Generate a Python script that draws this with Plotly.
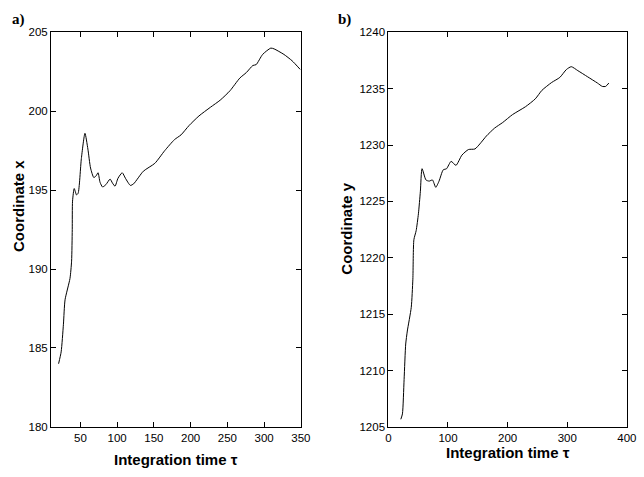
import plotly.graph_objects as go

# Panel a) : coordinate x vs integration time
t_a = [20.3, 23.8, 26.9, 29.1, 35.8, 38.0, 38.9, 39.3, 41.6, 44.7, 46.9, 51.3, 56.2, 60.2, 63.8,
       68.2, 71.3, 74.0, 76.7, 80.2, 84.7, 90.4, 93.6, 97.1, 101.1, 106.9, 111.3, 118.0, 122.4,
       135.7, 151.3, 164.7, 178.0, 186.9, 198.0, 211.3, 226.9, 240.2, 253.6, 266.9, 275.8,
       284.7, 289.1, 298.0, 309.1, 313.6, 326.9, 338.0, 349.1]
x_a = [184.0, 184.75, 186.5, 188.05, 189.4, 190.5, 192.5, 194.3, 195.1, 194.7, 194.8, 197.0, 198.6,
       197.6, 196.4, 195.8, 195.9, 196.1, 195.5, 195.2, 195.35, 195.7, 195.45, 195.25, 195.75,
       196.1, 195.75, 195.3, 195.4, 196.2, 196.7, 197.5, 198.2, 198.5, 199.1, 199.7, 200.25,
       200.7, 201.3, 202.1, 202.45, 202.9, 202.95, 203.6, 204.0, 203.95, 203.6, 203.2, 202.65]

# Panel b) : coordinate y vs integration time
t_b = [20.9, 23.6, 26.4, 29.1, 31.8, 38.4, 41.1, 42.8, 46.6, 50.4, 53.7, 56.5, 63.1, 68.5, 74.0,
       79.5, 85.0, 92.0, 97.6, 105.2, 113.4, 123.3, 134.3, 145.2, 153.5, 164.4, 178.1, 191.8,
       208.2, 230.0, 246.5, 257.5, 273.9, 287.6, 298.6, 306.8, 317.8, 334.3, 350.7, 358.9,
       364.4, 369.8]
y_b = [1205.67, 1206.15, 1209.2, 1212.35, 1213.5, 1215.6, 1218.1, 1221.6, 1222.4, 1223.9, 1225.9,
       1227.9, 1226.9, 1226.8, 1226.9, 1226.25, 1226.8, 1227.8, 1227.9, 1228.55, 1228.2, 1229.1,
       1229.6, 1229.65, 1230.1, 1230.8, 1231.5, 1232.0, 1232.7, 1233.4, 1234.1, 1234.85,
       1235.55, 1236.0, 1236.7, 1236.95, 1236.6, 1236.05, 1235.5, 1235.2, 1235.2, 1235.5]

xticks_a = [50, 100, 150, 200, 250, 300, 350]
yticks_a = [180, 185, 190, 195, 200, 205]
xticks_b = [0, 100, 200, 300, 400]
yticks_b = [1205, 1210, 1215, 1220, 1225, 1230, 1235, 1240]

W, H = 644, 477
ytop = 1 - 27 / H
ybot = 1 - 431.7 / H

fig = go.Figure()
fig.add_trace(go.Scatter(x=t_a, y=x_a, mode="lines", xaxis="x", yaxis="y",
                         line=dict(color="black", width=1, shape="spline", smoothing=0.6),
                         showlegend=False))
fig.add_trace(go.Scatter(x=t_b, y=y_b, mode="lines", xaxis="x2", yaxis="y2",
                         line=dict(color="black", width=1, shape="spline", smoothing=0.6),
                         showlegend=False))

tickfont = dict(family="Liberation Sans, Arial, sans-serif", size=11.5, color="black")
common = dict(showline=True, linecolor="black", linewidth=1, mirror="ticks",
              ticks="inside", ticklen=5, tickcolor="black", tickwidth=1,
              showgrid=False, zeroline=False, tickfont=tickfont)

fig.update_layout(
    width=W, height=H,
    margin=dict(l=0, r=0, t=0, b=0),
    paper_bgcolor="white", plot_bgcolor="white",
    xaxis=dict(domain=[49 / W, 304 / W], range=[10, 350], tickvals=xticks_a,
               anchor="y", **common),
    yaxis=dict(domain=[ybot, ytop], range=[180, 205], tickvals=yticks_a,
               anchor="x", **common),
    xaxis2=dict(domain=[393.3 / W, 636.7 / W], range=[0, 400], tickvals=xticks_b,
                anchor="y2", **common),
    yaxis2=dict(domain=[ybot, ytop], range=[1205, 1240], tickvals=yticks_b,
                anchor="x2", **common),
)

titlefont = dict(family="Liberation Sans, Arial, sans-serif", size=15, color="black")
labfont = dict(family="Liberation Serif, Times New Roman, serif", size=15, color="black")
ann = [
    dict(text="<b>Integration time τ</b>", x=176.5 / W, y=1 - 465 / H, font=titlefont),
    dict(text="<b>Integration time τ</b>", x=515 / W, y=1 - 457.7 / H, font=titlefont),
    dict(text="<b>Coordinate x</b>", x=16.5 / W, y=1 - 205 / H, textangle=-90, font=titlefont),
    dict(text="<b>Coordinate y</b>", x=350.5 / W, y=1 - 228 / H, textangle=-90, font=titlefont),
    dict(text="<b>a)</b>", x=16 / W, y=1 - 14 / H, font=labfont),
    dict(text="<b>b)</b>", x=349 / W, y=1 - 14 / H, font=labfont),
]
for a in ann:
    fig.add_annotation(xref="paper", yref="paper", showarrow=False,
                       xanchor="center", yanchor="middle", **a)

fig.write_html("out.html")
